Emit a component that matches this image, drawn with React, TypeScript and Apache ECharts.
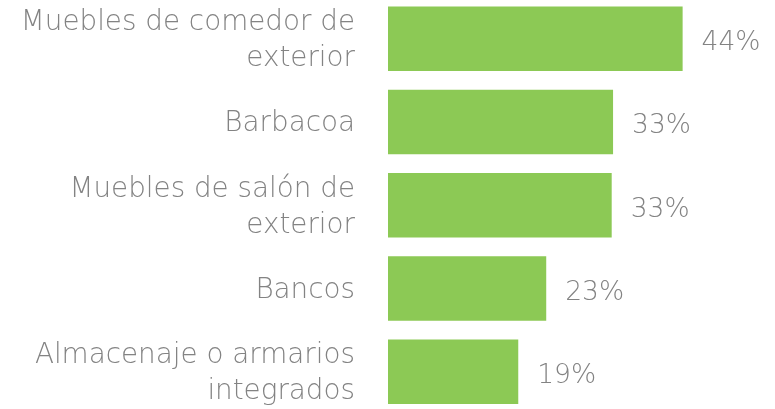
import React, { useEffect, useRef } from "react";
import * as echarts from "echarts";

const categories = [
  "Muebles de comedor de exterior",
  "Barbacoa",
  "Muebles de salón de exterior",
  "Bancos",
  "Almacenaje o armarios integrados",
];
// bar lengths (percent)
const barValues = [43.2, 33.0, 32.8, 23.2, 19.1];
// value labels as printed in the picture
const valueLabels = ["44%", "33%", "33%", "23%", "19%"];

function wrap(text: string, maxChars: number): string {
  const words = text.split(" ");
  const lines: string[] = [];
  let cur = "";
  for (const w of words) {
    const next = cur ? cur + " " + w : w;
    if (next.length > maxChars && cur) {
      lines.push(cur);
      cur = w;
    } else {
      cur = next;
    }
  }
  if (cur) lines.push(cur);
  return lines.join("\n");
}

const FONT = "'DejaVu Sans'";

export default function App() {
  const ref = useRef<HTMLDivElement>(null);
  useEffect(() => {
    if (!ref.current) return;
    const chart = echarts.init(ref.current, undefined, { renderer: "svg" });
    chart.setOption({
      animation: false,
      grid: {
        left: 388,
        width: 341,
        top: -3,
        height: 416.5,
        outerBoundsMode: "none",
        containLabel: false,
      },
      xAxis: {
        type: "value",
        min: 0,
        max: 50,
        show: false,
      },
      yAxis: {
        type: "category",
        inverse: true,
        data: categories,
        axisLine: { show: false },
        axisTick: { show: false },
        splitLine: { show: false },
        axisLabel: {
          margin: 33,
          fontFamily: FONT,
          fontWeight: 200,
          fontSize: 27.8,
          lineHeight: 36,
          padding: [8, 0, 0, 0],
          color: "#838383",
          align: "right",
          formatter: (v: string) => wrap(v, 22),
        },
      },
      series: [
        {
          type: "bar",
          data: barValues,
          barWidth: 64.5,
          itemStyle: { color: "#8cc955" },
          label: {
            show: true,
            position: "right",
            distance: 19,
            offset: [0, 2],
            fontFamily: FONT,
            fontWeight: 200,
            fontSize: 26.5,
            color: "#838383",
            formatter: (p: any) => valueLabels[p.dataIndex],
          },
        },
      ],
    });
    return () => chart.dispose();
  }, []);
  return (
    <div
      ref={ref}
      style={{ position: "fixed", left: 0, top: 0, width: 775, height: 409 }}
    />
  );
}
